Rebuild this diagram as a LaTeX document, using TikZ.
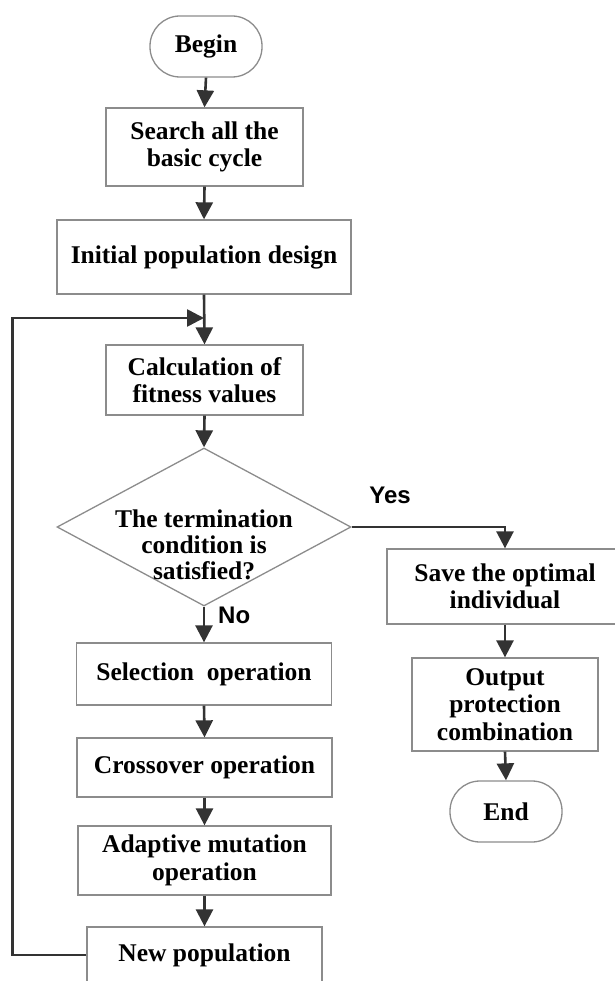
\documentclass[tikz,border=0pt]{standalone}
\usepackage{fontspec}
\setmainfont{Liberation Serif}
\newfontfamily\labelfont{Liberation Sans}
\usetikzlibrary{arrows.meta,shapes.geometric}

\definecolor{boxline}{HTML}{8C8C8C}
\definecolor{flowline}{HTML}{333333}

\tikzset{
  stepbox/.style={draw=boxline, line width=1.3pt, rectangle, inner sep=0pt,
    align=center, font=\bfseries\fontsize{25.5}{27.5}\selectfont},
  terminal/.style={stepbox, rounded corners=30pt},
  decision/.style={draw=boxline, line width=1.3pt, diamond, inner sep=0pt,
    minimum width=294pt, minimum height=158pt},
  plaintext/.style={inner sep=0pt, align=center,
    font=\bfseries\fontsize{25.5}{26}\selectfont},
  branchlabel/.style={inner sep=0pt, font=\labelfont\bfseries\fontsize{24}{26}\selectfont},
  flow/.style={draw=flowline, line width=2.6pt,
    -{Triangle[width=17pt,length=17pt]}},
  flowplain/.style={draw=flowline, line width=2.6pt}
}

\begin{document}
\begin{tikzpicture}[x=1pt, y=-1pt]
  \useasboundingbox (0,0) rectangle (614,981);

  % main column
  \node[terminal, minimum width=112pt, minimum height=61pt] (begin) at (206,46.5) {Begin};
  \node[stepbox, minimum width=197pt, minimum height=78pt] (search) at (204.5,147) {Search all the\\basic cycle};
  \node[stepbox, minimum width=294pt, minimum height=74pt] (init) at (204,257) {Initial population design};
  \node[stepbox, minimum width=197pt, minimum height=70pt] (calc) at (204.5,380) {Calculation of\\fitness values};
  \node[decision] (cond) at (204,527) {};
  \node[plaintext] (condtext) at (204,545) {The termination\\condition is\\satisfied?};
  \node[stepbox, minimum width=255pt, minimum height=62pt] (select) at (204,674) {Selection~ operation};
  \node[stepbox, minimum width=255pt, minimum height=59pt] (cross) at (204.5,767.5) {Crossover operation};
  \node[stepbox, minimum width=253pt, minimum height=69pt] (mutate) at (204.5,860.5) {Adaptive mutation\\operation};
  \node[stepbox, minimum width=235pt, minimum height=56pt] (newpop) at (204.5,955) {New population};

  % right branch
  \node[stepbox, minimum width=236pt, minimum height=75pt] (save) at (505,586.5) {Save the optimal\\individual};
  \node[stepbox, minimum width=186pt, minimum height=93pt] (output) at (505,704.5) {Output\\protection\\combination};
  \node[terminal, minimum width=112pt, minimum height=61pt] (end) at (506,811.5) {End};

  % branch labels
  \node[branchlabel] (yes) at (390,495) {Yes};
  \node[branchlabel, anchor=west] (no) at (218,615) {No};

  % loop-back points
  \coordinate (loopcorner) at (12.5,318);
  \coordinate (join) at (204,318);

  % connectors
  \draw[flow] (begin.south) -- (search.north);
  \draw[flow] (search.south) -- (init.north);
  \draw[flow] (init.south) -- (calc.north);
  \draw[flow] (calc.south) -- (cond.north);
  \draw[flow] (cond.south) -- (select.north);
  \draw[flow] (select.south) -- (cross.north);
  \draw[flow] (cross.south) -- (mutate.north);
  \draw[flow] (mutate.south) -- (newpop.north);
  \draw[flow] (cond.east) -| (save.north);
  \draw[flow] (save.south) -- (output.north);
  \draw[flow] (output.south) -- (end.north);
  \draw[flow] (newpop.west) -| (loopcorner) -- (join);
\end{tikzpicture}
\end{document}
